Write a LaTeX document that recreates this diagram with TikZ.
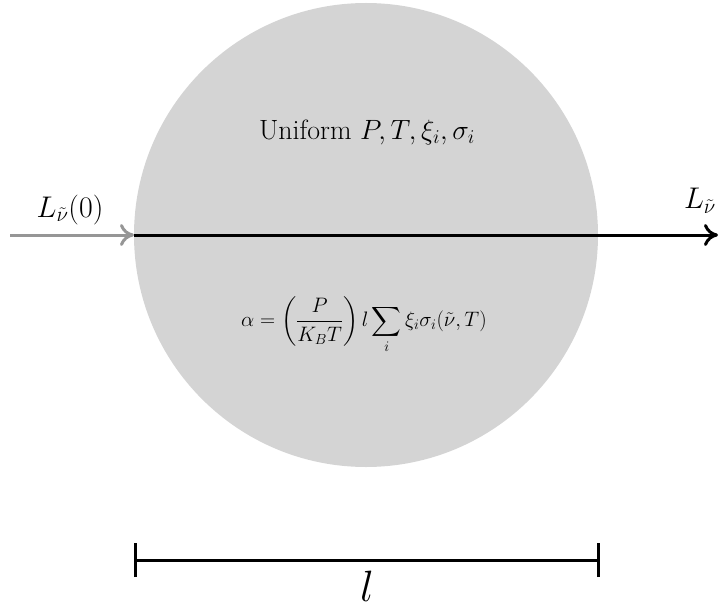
\RequirePackage{fix-cm}
\documentclass[tikz,border=0pt]{standalone}
\usepackage{amsmath}
\usetikzlibrary{arrows.meta}
\definecolor{discgray}{RGB}{212,212,212}
\definecolor{inarrow}{RGB}{150,150,150}
\begin{document}
\begin{tikzpicture}[x=1bp,y=-1bp,
  openhead/.style={-{To[length=14bp,width=22bp,line width=3bp]}},
  beam/.style={line width=3bp},
  bigtxt/.style={font=\fontsize{30}{34}\selectfont, inner sep=0pt},
  midtxt/.style={font=\fontsize{28}{32}\selectfont, inner sep=0pt},
  eqtxt/.style={font=\fontsize{21}{25}\selectfont, inner sep=0pt}]
\useasboundingbox (0,0) rectangle (722,609);
\fill[discgray] (366,235) circle[radius=232];
\node[midtxt] (unif) at (367,132) {Uniform $P, T, \xi_i, \sigma_i$};
\node[eqtxt] (eq) at (364,325) {$\displaystyle \alpha=\left(\frac{P}{K_B T}\right) l\sum_i \xi_i\sigma_i(\tilde\nu,T)$};
\coordinate (start) at (10,235);
\coordinate (edge) at (134,235);
\coordinate (finish) at (718,235);
\draw[beam, inarrow, openhead] (start) -- (edge);
\draw[beam, black, openhead] (edge) -- (finish);
\node[bigtxt] (lin) at (70,210) {$L_{\tilde\nu}(0)$};
\node[bigtxt] (lout) at (700,201) {$L_{\tilde\nu}$};
\coordinate (barL) at (135,560);
\coordinate (barR) at (598,560);
\draw[beam] (barL) -- (barR);
\draw[beam] ([yshift=-17bp]barL) -- ([yshift=17bp]barL);
\draw[beam] ([yshift=-17bp]barR) -- ([yshift=17bp]barR);
\node[font=\fontsize{44}{48}\selectfont, inner sep=0pt] (ell) at (367,586) {$l$};
\end{tikzpicture}
\end{document}
